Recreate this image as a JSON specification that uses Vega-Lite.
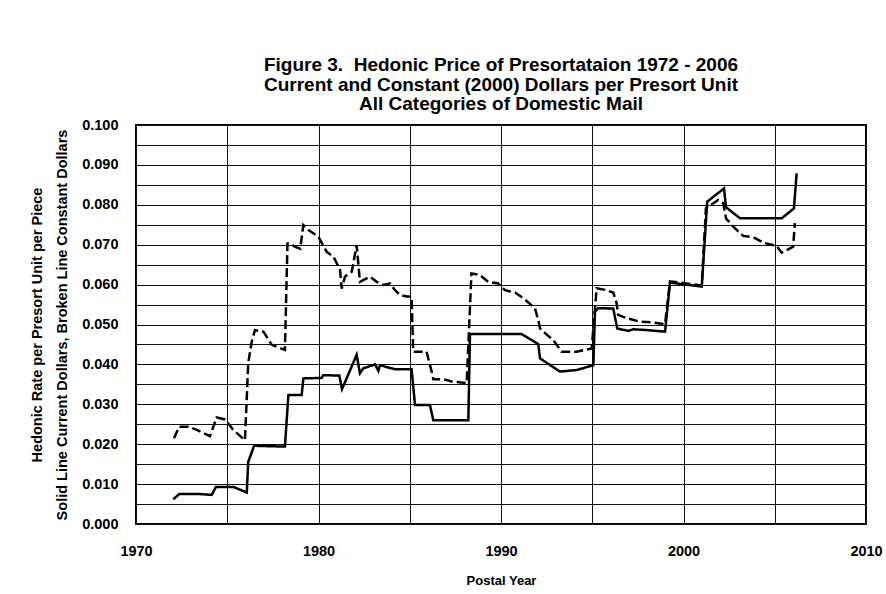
{
  "$schema": "https://vega.github.io/schema/vega-lite/v6.json",
  "width": 730,
  "height": 399,
  "autosize": "none",
  "padding": {"left": 136, "top": 125, "right": 20, "bottom": 70},
  "background": "white",
  "title": {
    "text": ["Figure 3.\u00a0 Hedonic Price of Presortataion 1972 - 2006", "Current and Constant (2000) Dollars per Presort Unit", "All Categories of Domestic Mail"],
    "font": "Liberation Sans",
    "fontSize": 19,
    "fontWeight": "bold",
    "color": "#000",
    "lineHeight": 19.5,
    "anchor": "middle",
    "offset": 3
  },
  "config": {
    "view": {"stroke": "#000", "strokeWidth": 2},
    "axis": {
      "labelFont": "Liberation Sans",
      "labelFontWeight": "bold",
      "labelFontSize": 14.5,
      "labelColor": "#000",
      "titleFont": "Liberation Sans",
      "titleFontWeight": "bold",
      "titleColor": "#000",
      "titleFontSize": 14.5,
      "domain": false,
      "ticks": false,
      "gridColor": "#111",
      "gridOpacity": 1,
      "gridWidth": 1
    }
  },
  "data": {
    "values": [
      {"series": "Current", "year": 1972.04, "value": 0.0062},
      {"series": "Current", "year": 1972.37, "value": 0.0075},
      {"series": "Current", "year": 1973.5, "value": 0.0075},
      {"series": "Current", "year": 1974.15, "value": 0.0073},
      {"series": "Current", "year": 1974.38, "value": 0.0093},
      {"series": "Current", "year": 1975.33, "value": 0.0093},
      {"series": "Current", "year": 1976.07, "value": 0.0079},
      {"series": "Current", "year": 1976.15, "value": 0.0156},
      {"series": "Current", "year": 1976.47, "value": 0.0196},
      {"series": "Current", "year": 1977.3, "value": 0.0195},
      {"series": "Current", "year": 1978.16, "value": 0.0194},
      {"series": "Current", "year": 1978.35, "value": 0.0323},
      {"series": "Current", "year": 1979.08, "value": 0.0323},
      {"series": "Current", "year": 1979.17, "value": 0.0365},
      {"series": "Current", "year": 1980.17, "value": 0.0366},
      {"series": "Current", "year": 1980.26, "value": 0.0373},
      {"series": "Current", "year": 1981.14, "value": 0.0372},
      {"series": "Current", "year": 1981.29, "value": 0.0338},
      {"series": "Current", "year": 1982.09, "value": 0.0424},
      {"series": "Current", "year": 1982.27, "value": 0.0378},
      {"series": "Current", "year": 1982.45, "value": 0.039},
      {"series": "Current", "year": 1983.1, "value": 0.04},
      {"series": "Current", "year": 1983.28, "value": 0.0384},
      {"series": "Current", "year": 1983.37, "value": 0.0398},
      {"series": "Current", "year": 1983.92, "value": 0.0391},
      {"series": "Current", "year": 1984.19, "value": 0.0388},
      {"series": "Current", "year": 1985.1, "value": 0.0388},
      {"series": "Current", "year": 1985.29, "value": 0.0298},
      {"series": "Current", "year": 1986.11, "value": 0.0298},
      {"series": "Current", "year": 1986.29, "value": 0.026},
      {"series": "Current", "year": 1988.21, "value": 0.026},
      {"series": "Current", "year": 1988.3, "value": 0.0476},
      {"series": "Current", "year": 1991.13, "value": 0.0476},
      {"series": "Current", "year": 1992.04, "value": 0.0451},
      {"series": "Current", "year": 1992.14, "value": 0.0415},
      {"series": "Current", "year": 1993.23, "value": 0.0382},
      {"series": "Current", "year": 1994.15, "value": 0.0386},
      {"series": "Current", "year": 1995.06, "value": 0.0398},
      {"series": "Current", "year": 1995.15, "value": 0.0532},
      {"series": "Current", "year": 1995.33, "value": 0.0541},
      {"series": "Current", "year": 1996.15, "value": 0.054},
      {"series": "Current", "year": 1996.37, "value": 0.049},
      {"series": "Current", "year": 1996.97, "value": 0.0484},
      {"series": "Current", "year": 1997.25, "value": 0.0488},
      {"series": "Current", "year": 1998.0, "value": 0.0486},
      {"series": "Current", "year": 1998.99, "value": 0.0482},
      {"series": "Current", "year": 1999.26, "value": 0.0605},
      {"series": "Current", "year": 2001.0, "value": 0.0595},
      {"series": "Current", "year": 2001.3, "value": 0.0808},
      {"series": "Current", "year": 2002.22, "value": 0.0841},
      {"series": "Current", "year": 2002.33, "value": 0.0794},
      {"series": "Current", "year": 2003.1, "value": 0.0766},
      {"series": "Current", "year": 2005.38, "value": 0.0766},
      {"series": "Current", "year": 2006.05, "value": 0.0791},
      {"series": "Current", "year": 2006.2, "value": 0.0879},
      {"series": "Constant", "year": 1972.08, "value": 0.0215},
      {"series": "Constant", "year": 1972.37, "value": 0.0244},
      {"series": "Constant", "year": 1972.87, "value": 0.0244},
      {"series": "Constant", "year": 1973.33, "value": 0.0236},
      {"series": "Constant", "year": 1974.05, "value": 0.022},
      {"series": "Constant", "year": 1974.42, "value": 0.0267},
      {"series": "Constant", "year": 1974.88, "value": 0.0262},
      {"series": "Constant", "year": 1975.33, "value": 0.0236},
      {"series": "Constant", "year": 1975.97, "value": 0.021},
      {"series": "Constant", "year": 1976.15, "value": 0.0403},
      {"series": "Constant", "year": 1976.34, "value": 0.0457},
      {"series": "Constant", "year": 1976.52, "value": 0.0486},
      {"series": "Constant", "year": 1976.98, "value": 0.0482},
      {"series": "Constant", "year": 1977.44, "value": 0.0449},
      {"series": "Constant", "year": 1978.16, "value": 0.0436},
      {"series": "Constant", "year": 1978.3, "value": 0.0703},
      {"series": "Constant", "year": 1978.44, "value": 0.0703},
      {"series": "Constant", "year": 1978.7, "value": 0.0695},
      {"series": "Constant", "year": 1979.0, "value": 0.069},
      {"series": "Constant", "year": 1979.17, "value": 0.0749},
      {"series": "Constant", "year": 1979.45, "value": 0.0737},
      {"series": "Constant", "year": 1979.99, "value": 0.072},
      {"series": "Constant", "year": 1980.45, "value": 0.0682},
      {"series": "Constant", "year": 1980.82, "value": 0.067},
      {"series": "Constant", "year": 1981.18, "value": 0.0637},
      {"series": "Constant", "year": 1981.27, "value": 0.059},
      {"series": "Constant", "year": 1981.45, "value": 0.062},
      {"series": "Constant", "year": 1981.82, "value": 0.0632},
      {"series": "Constant", "year": 1982.09, "value": 0.0699},
      {"series": "Constant", "year": 1982.27, "value": 0.0607},
      {"series": "Constant", "year": 1982.82, "value": 0.062},
      {"series": "Constant", "year": 1983.19, "value": 0.0607},
      {"series": "Constant", "year": 1983.55, "value": 0.0599},
      {"series": "Constant", "year": 1983.92, "value": 0.0603},
      {"series": "Constant", "year": 1984.19, "value": 0.0586},
      {"series": "Constant", "year": 1984.47, "value": 0.0574},
      {"series": "Constant", "year": 1984.83, "value": 0.057},
      {"series": "Constant", "year": 1985.1, "value": 0.057},
      {"series": "Constant", "year": 1985.19, "value": 0.0432},
      {"series": "Constant", "year": 1985.92, "value": 0.0432},
      {"series": "Constant", "year": 1986.2, "value": 0.0382},
      {"series": "Constant", "year": 1986.29, "value": 0.0363},
      {"series": "Constant", "year": 1986.84, "value": 0.0363},
      {"series": "Constant", "year": 1987.3, "value": 0.0357},
      {"series": "Constant", "year": 1988.12, "value": 0.0353},
      {"series": "Constant", "year": 1988.38, "value": 0.0628},
      {"series": "Constant", "year": 1988.84, "value": 0.0624},
      {"series": "Constant", "year": 1989.3, "value": 0.0607},
      {"series": "Constant", "year": 1989.85, "value": 0.0603},
      {"series": "Constant", "year": 1990.22, "value": 0.0586},
      {"series": "Constant", "year": 1990.77, "value": 0.058},
      {"series": "Constant", "year": 1991.22, "value": 0.0566},
      {"series": "Constant", "year": 1991.86, "value": 0.0541},
      {"series": "Constant", "year": 1992.04, "value": 0.0511},
      {"series": "Constant", "year": 1992.14, "value": 0.049},
      {"series": "Constant", "year": 1992.32, "value": 0.0482},
      {"series": "Constant", "year": 1992.86, "value": 0.0461},
      {"series": "Constant", "year": 1993.32, "value": 0.0432},
      {"series": "Constant", "year": 1994.15, "value": 0.0432},
      {"series": "Constant", "year": 1994.97, "value": 0.044},
      {"series": "Constant", "year": 1995.24, "value": 0.0591},
      {"series": "Constant", "year": 1995.79, "value": 0.0586},
      {"series": "Constant", "year": 1996.15, "value": 0.058},
      {"series": "Constant", "year": 1996.33, "value": 0.0555},
      {"series": "Constant", "year": 1996.42, "value": 0.0524},
      {"series": "Constant", "year": 1996.88, "value": 0.0516},
      {"series": "Constant", "year": 1997.62, "value": 0.0507},
      {"series": "Constant", "year": 1998.34, "value": 0.0505},
      {"series": "Constant", "year": 1998.99, "value": 0.0501},
      {"series": "Constant", "year": 1999.26, "value": 0.0608},
      {"series": "Constant", "year": 2001.0, "value": 0.0598},
      {"series": "Constant", "year": 2001.23, "value": 0.0791},
      {"series": "Constant", "year": 2001.9, "value": 0.0812},
      {"series": "Constant", "year": 2002.18, "value": 0.0804},
      {"series": "Constant", "year": 2002.33, "value": 0.0766},
      {"series": "Constant", "year": 2002.73, "value": 0.0745},
      {"series": "Constant", "year": 2003.27, "value": 0.0722},
      {"series": "Constant", "year": 2003.82, "value": 0.0719},
      {"series": "Constant", "year": 2004.37, "value": 0.0705},
      {"series": "Constant", "year": 2005.1, "value": 0.0697},
      {"series": "Constant", "year": 2005.38, "value": 0.068},
      {"series": "Constant", "year": 2006.01, "value": 0.0695},
      {"series": "Constant", "year": 2006.1, "value": 0.0754}
    ]
  },
  "mark": {"type": "line", "color": "#000", "strokeWidth": 2.5, "strokeCap": "butt"},
  "encoding": {
    "x": {
      "field": "year",
      "type": "quantitative",
      "scale": {"domain": [1970, 2010], "nice": false, "zero": false},
      "axis": {
        "values": [1970, 1975, 1980, 1985, 1990, 1995, 2000, 2005, 2010],
        "labelExpr": "datum.value % 10 === 0 ? format(datum.value, 'd') : ''",
        "labelPadding": 20,
        "labelFlush": false,
        "labelOverlap": false,
        "title": "Postal Year",
        "titleFontSize": 13,
        "titlePadding": 17
      }
    },
    "y": {
      "field": "value",
      "type": "quantitative",
      "scale": {"domain": [0, 0.1], "nice": false},
      "axis": {
        "values": [0, 0.005, 0.01, 0.015, 0.02, 0.025, 0.03, 0.035, 0.04, 0.045, 0.05, 0.055, 0.06, 0.065, 0.07, 0.075, 0.08, 0.085, 0.09, 0.095, 0.1],
        "labelExpr": "round(datum.value * 1000) % 10 === 0 ? format(datum.value, '.3f') : ''",
        "labelPadding": 18,
        "labelFlush": false,
        "labelOverlap": false,
        "title": ["Hedonic Rate per Presort Unit per Piece", "Solid Line Current Dollars, Broken Line Constant Dollars"],
        "titleLineHeight": 25,
        "titlePadding": 12
      }
    },
    "strokeDash": {
      "field": "series",
      "type": "nominal",
      "scale": {"domain": ["Current", "Constant"], "range": [[1, 0], [9, 4]]},
      "legend": null
    }
  }
}
